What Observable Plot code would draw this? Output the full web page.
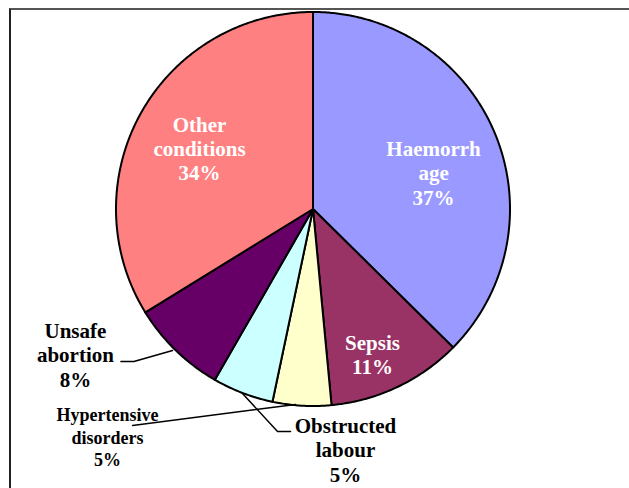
<!DOCTYPE html>
<html>
<head>
<meta charset="utf-8">
<script src="https://cdn.jsdelivr.net/npm/d3@7"></script>
<script src="https://cdn.jsdelivr.net/npm/@observablehq/plot@0.6"></script>
<style>
  html, body { margin: 0; padding: 0; background: #fff; }
  #wrap { position: relative; width: 629px; height: 488px; overflow: hidden; }
  #frame { position: absolute; left: 9px; top: 8px; right: -10px; bottom: -10px;
           border-top: 2px solid #555; border-left: 2px solid #222; }
  #chart { position: absolute; left: 0; top: 0; }
</style>
</head>
<body>
<div id="wrap"><div id="frame"></div><div id="chart"></div></div>
<script>
// Data (slice shares; labels show rounded percentages)
const categories = ["Haemorrhage", "Sepsis", "Obstructed labour", "Hypertensive disorders", "Unsafe abortion", "Other conditions"];
const values = [37.4, 11.1, 4.8, 5.0, 7.9, 33.8];
const colors = ["#9999FF", "#993366", "#FFFFCC", "#CCFFFF", "#660066", "#FF8080"];
const labelLines = [
  ["Haemorrh", "age", "37%"],
  ["Sepsis", "11%"],
  ["Obstructed", "labour", "5%"],
  ["Hypertensive", "disorders", "5%"],
  ["Unsafe", "abortion", "8%"],
  ["Other", "conditions", "34%"]
];

// Layout (data units, pie radius = 1)
const labelPos = [[0.612, 0.185], [0.302, -0.739], [0.165, -1.221], [-1.043, -1.155], [-1.206, -0.739], [-0.576, 0.307]];
const labelColor = ["white", "white", "black", "black", "black", "white"];
const labelSize = [21, 21, 21, 18, 21, 21];
const labelLH = [1.17, 1.15, 1.17, 1.25, 1.17, 1.15];
const leaders = [
  [[-0.975, -0.774], [-0.909, -0.774], [-0.713, -0.718]],
  [[-0.916, -1.099], [-0.089, -0.992]],
  [[-0.114, -1.129], [-0.180, -1.129], [-0.358, -0.937]]
];

const arcs = d3.pie().sort(null).value(d => d)(values);
function slicePoints(a) {
  const pts = [[0, 0]];
  const n = Math.max(8, Math.ceil((a.endAngle - a.startAngle) / (Math.PI / 360)));
  for (let i = 0; i <= n; i++) {
    const t = a.startAngle + (a.endAngle - a.startAngle) * i / n;
    pts.push([Math.sin(t), Math.cos(t)]);
  }
  pts.push([0, 0]);
  return pts;
}

const marks = [];
arcs.forEach((a, i) => {
  marks.push(Plot.line(slicePoints(a), {
    x: d => d[0], y: d => d[1], fill: colors[i], stroke: "black",
    strokeWidth: 2, strokeLinejoin: "round", curve: "linear"
  }));
});
leaders.forEach(pts => {
  marks.push(Plot.line(pts, {x: d => d[0], y: d => d[1], stroke: "black", strokeWidth: 1.5, curve: "linear"}));
});
categories.forEach((c, i) => {
  marks.push(Plot.text([labelLines[i].join("\n")], {
    x: () => labelPos[i][0], y: () => labelPos[i][1], text: d => d,
    fill: labelColor[i], fontSize: labelSize[i], fontWeight: "bold",
    fontFamily: "Liberation Serif", lineHeight: labelLH[i], textAnchor: "middle"
  }));
});

const chart = Plot.plot({
  width: 629, height: 488, margin: 0,
  x: {domain: [-1, 1], range: [115.5, 509.5], axis: null},
  y: {domain: [-1, 1], range: [405.5, 11.5], axis: null},
  style: {background: "transparent", overflow: "visible"},
  marks
});
document.getElementById("chart").appendChild(chart);
</script>
</body>
</html>
